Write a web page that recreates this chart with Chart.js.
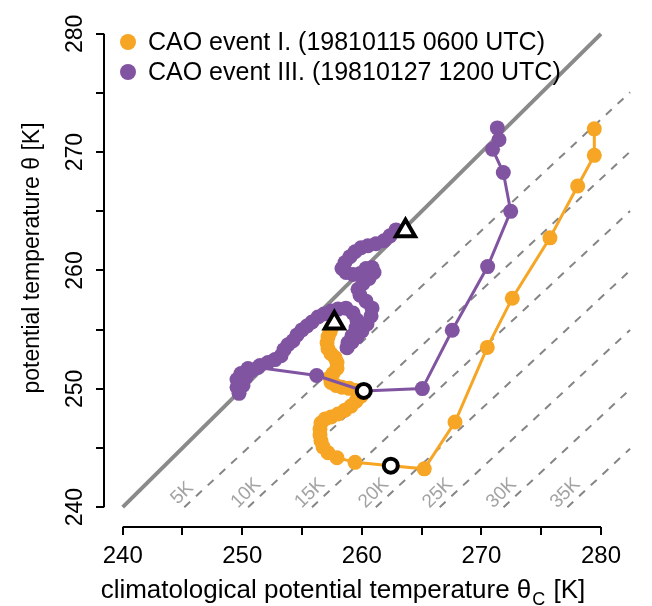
<!DOCTYPE html>
<html>
<head>
<meta charset="utf-8">
<script src="https://cdn.jsdelivr.net/npm/chart.js@4.4.0/dist/chart.umd.min.js"></script>
<style>
  html, body { margin: 0; padding: 0; background: #fff; }
</style>
</head>
<body>
<canvas id="chart" width="652" height="606"></canvas>
<script>
// trajectory of each cold air outbreak in (theta_c, theta) space
const seriesNames = ['CAO event I. (19810115 0600 UTC)', 'CAO event III. (19810127 1200 UTC)'];
const seriesColors = ['#F6A524', '#8154A1'];

const event1ThetaC = [279.44, 279.44, 278.05, 275.73, 272.58, 270.49, 267.79, 265.22, 262.42, 259.43,
  257.92, 257.17, 256.75, 256.58, 256.50, 256.50, 256.58, 256.92, 257.42, 258.01,
  258.59, 259.09, 259.51, 259.93, 260.01, 259.51, 258.93, 258.34, 257.84, 257.42,
  257.34, 257.59, 257.92, 257.92, 257.75, 257.42, 257.17, 257.09, 257.17, 257.34,
  257.50, 257.67];
const event1Theta = [271.97, 269.73, 267.14, 262.76, 257.66, 253.50, 247.20, 243.24, 243.51, 243.79,
  244.18, 244.60, 245.10, 245.61, 246.11, 246.61, 247.11, 247.45, 247.62, 247.87,
  248.20, 248.54, 248.95, 249.37, 249.71, 249.87, 250.04, 250.13, 250.29, 250.54,
  250.96, 251.30, 251.72, 252.22, 252.64, 252.97, 253.39, 253.89, 254.39, 254.81,
  255.23, 255.56];

const event3ThetaC = [271.33, 271.47, 270.93, 271.83, 272.45, 270.52, 267.56, 265.06, 260.16, 256.22,
  251.32, 250.48, 249.89, 249.56, 249.56, 249.73, 250.06, 250.31, 250.81, 251.48,
  252.15, 252.74, 253.24, 253.49, 253.82, 254.24, 254.58, 254.99, 255.41, 255.83,
  256.33, 256.83, 257.42, 258.01, 258.67, 259.26, 259.59, 259.51, 259.18, 258.84,
  258.76, 259.18, 259.59, 260.01, 260.43, 260.77, 260.85, 260.35, 259.85, 259.68,
  260.10, 260.60, 261.02, 260.85, 260.35, 259.85, 259.26, 258.67, 258.34, 258.59,
  259.01, 259.43, 259.93, 260.51, 261.18, 261.85, 262.35, 262.86];
const event3Theta = [272.05, 271.05, 270.25, 268.28, 265.00, 260.33, 254.95, 250.02, 249.82, 251.13,
  251.80, 251.72, 251.30, 250.79, 250.13, 249.62, 250.29, 250.96, 251.55, 251.97,
  252.22, 252.47, 252.80, 253.31, 253.72, 254.06, 254.56, 254.98, 255.31, 255.65,
  256.07, 256.32, 256.57, 256.74, 256.82, 256.40, 255.82, 255.15, 254.48, 253.89,
  253.47, 253.97, 254.39, 254.90, 255.48, 256.15, 256.82, 257.41, 257.91, 258.41,
  258.91, 259.33, 259.83, 260.25, 260.17, 259.75, 259.67, 259.83, 260.17, 260.67,
  261.17, 261.59, 261.92, 262.09, 262.26, 262.51, 262.93, 263.43];

// open circle and triangle markers on each trajectory
const circleThetaC = [262.42, 260.16];
const circleTheta = [243.51, 249.82];
const triangleThetaC = [257.70, 263.65];
const triangleTheta = [255.56, 263.35];

// dashed offset lines: start on theta = 240, end at the right edge
const offsetLabels = ['5K', '10K', '15K', '20K', '25K', '30K', '35K'];
const offsetStartThetaC = [245.15, 250.49, 255.83, 261.17, 266.51, 271.85, 277.19];
const offsetStartTheta = 240;
const offsetEndThetaC = 282.43;
const offsetEndTheta = [275.06, 270.04, 265.02, 260.00, 254.98, 249.96, 244.94];

// 1:1 line
const diagMin = 240;
const diagMax = 280;

const xTicks = [240, 245, 250, 255, 260, 265, 270, 275, 280];
const xTickLabels = ['240', '', '250', '', '260', '', '270', '', '280'];
const yTicks = [240, 245, 250, 255, 260, 265, 270, 275, 280];
const yTickLabels = ['240', '', '250', '', '260', '', '270', '', '280'];

const FONT = '"Liberation Sans", Arial, Helvetica, sans-serif';

function pts(xs, ys) {
  return xs.map((x, i) => ({ x: x, y: ys[i] }));
}

const datasets = [];

datasets.push({
  label: 'circles',
  data: pts(circleThetaC, circleTheta),
  showLine: false,
  pointStyle: 'circle',
  pointRadius: 7,
  pointBackgroundColor: '#fff',
  pointBorderColor: '#000',
  pointBorderWidth: 4
});
datasets.push({
  label: 'triangles',
  data: pts(triangleThetaC, triangleTheta),
  showLine: false,
  pointStyle: 'triangle',
  pointRadius: 11,
  pointBackgroundColor: '#fff',
  pointBorderColor: '#000',
  pointBorderWidth: 4
});
datasets.push({
  label: seriesNames[1],
  data: pts(event3ThetaC, event3Theta),
  showLine: true,
  borderColor: seriesColors[1],
  borderWidth: 3,
  pointRadius: 7.5,
  pointBackgroundColor: seriesColors[1],
  pointBorderWidth: 0
});
datasets.push({
  label: seriesNames[0],
  data: pts(event1ThetaC, event1Theta),
  showLine: true,
  borderColor: seriesColors[0],
  borderWidth: 3,
  pointRadius: 7.5,
  pointBackgroundColor: seriesColors[0],
  pointBorderWidth: 0
});

// dashed offset lines, then the 1:1 line underneath everything
offsetLabels.forEach((name, i) => {
  datasets.push({
    label: name,
    data: [{ x: offsetStartThetaC[i], y: offsetStartTheta }, { x: offsetEndThetaC, y: offsetEndTheta[i] }],
    showLine: true,
    borderColor: '#858585',
    borderWidth: 2,
    borderDash: [8, 8],
    pointRadius: 0
  });
});
datasets.push({
  label: '1:1',
  data: [{ x: diagMin, y: diagMin }, { x: diagMax, y: diagMax }],
  showLine: true,
  borderColor: '#8a8a8a',
  borderWidth: 4,
  pointRadius: 0
});

// axes, offset labels and legend are drawn by hand around the plot region
const decorations = {
  id: 'decorations',
  beforeDatasetsDraw(chart) {
    const ctx = chart.ctx;
    const xs = chart.scales.x, ys = chart.scales.y;
    ctx.save();
    ctx.fillStyle = '#a3a3a3';
    ctx.font = '19px ' + FONT;
    ctx.textAlign = 'center';
    ctx.textBaseline = 'middle';
    offsetLabels.forEach((name, i) => {
      const px = xs.getPixelForValue(offsetStartThetaC[i]) - 2;
      const py = ys.getPixelForValue(offsetStartTheta) - 14;
      ctx.save();
      ctx.translate(px, py);
      ctx.rotate(-Math.PI / 4);
      ctx.fillText(name, 0, 0);
      ctx.restore();
    });
    ctx.restore();
  },
  afterDraw(chart) {
    const ctx = chart.ctx;
    const xs = chart.scales.x, ys = chart.scales.y;
    const area = chart.chartArea;
    ctx.save();
    ctx.strokeStyle = '#000';
    ctx.fillStyle = '#000';
    ctx.lineWidth = 2;

    // x axis
    const axY = area.bottom + 1;
    ctx.beginPath();
    ctx.moveTo(xs.getPixelForValue(xTicks[0]), axY);
    ctx.lineTo(xs.getPixelForValue(xTicks[xTicks.length - 1]), axY);
    xTicks.forEach(v => {
      const p = Math.round(xs.getPixelForValue(v));
      ctx.moveTo(p, axY);
      ctx.lineTo(p, axY + 8);
    });
    ctx.stroke();
    ctx.font = '24px ' + FONT;
    ctx.textAlign = 'center';
    ctx.textBaseline = 'alphabetic';
    xTicks.forEach((v, i) => {
      if (xTickLabels[i]) ctx.fillText(xTickLabels[i], xs.getPixelForValue(v), 563);
    });

    // y axis
    const axX = area.left;
    ctx.beginPath();
    ctx.moveTo(axX, ys.getPixelForValue(yTicks[0]));
    ctx.lineTo(axX, ys.getPixelForValue(yTicks[yTicks.length - 1]));
    yTicks.forEach(v => {
      const p = Math.round(ys.getPixelForValue(v));
      ctx.moveTo(axX, p);
      ctx.lineTo(axX - 8, p);
    });
    ctx.stroke();
    ctx.font = '23px ' + FONT;
    yTicks.forEach((v, i) => {
      if (!yTickLabels[i]) return;
      ctx.save();
      ctx.translate(82, ys.getPixelForValue(v));
      ctx.rotate(-Math.PI / 2);
      ctx.fillText(yTickLabels[i], 0, 0);
      ctx.restore();
    });

    // axis titles
    ctx.save();
    ctx.translate(39, 258);
    ctx.rotate(-Math.PI / 2);
    ctx.fillText('potential temperature \u03b8 [K]', 0, 0);
    ctx.restore();

    const partA = 'climatological potential temperature \u03b8';
    const partB = 'C';
    const partC = ' [K]';
    ctx.font = '26px ' + FONT;
    const wA = ctx.measureText(partA).width;
    const wC = ctx.measureText(partC).width;
    ctx.font = '18px ' + FONT;
    const wB = ctx.measureText(partB).width;
    let tx = 343 - (wA + wB + wC + 2) / 2;
    ctx.textAlign = 'left';
    ctx.font = '26px ' + FONT;
    ctx.fillText(partA, tx, 598);
    tx += wA + 1;
    ctx.font = '18px ' + FONT;
    ctx.fillText(partB, tx, 605);
    tx += wB + 1;
    ctx.font = '26px ' + FONT;
    ctx.fillText(partC, tx, 598);

    // legend
    ctx.font = '25px ' + FONT;
    ctx.textBaseline = 'middle';
    [0, 1].forEach(i => {
      const ly = 42 + i * 30;
      ctx.fillStyle = seriesColors[i];
      ctx.beginPath();
      ctx.arc(128, ly, 8, 0, Math.PI * 2);
      ctx.fill();
      ctx.fillStyle = '#000';
      ctx.fillText(seriesNames[i], 148, ly + 1);
    });
    ctx.restore();
  }
};

new Chart(document.getElementById('chart'), {
  type: 'scatter',
  data: { datasets: datasets },
  options: {
    responsive: false,
    animation: false,
    devicePixelRatio: 1,
    layout: { padding: { left: 104, top: 10, right: 20, bottom: 80 } },
    scales: {
      x: { type: 'linear', display: false, min: 238.436, max: 282.593 },
      y: { type: 'linear', display: false, min: 238.41, max: 281.59 }
    },
    plugins: {
      legend: { display: false },
      tooltip: { enabled: false }
    },
    elements: { line: { tension: 0 } }
  },
  plugins: [decorations]
});
</script>
</body>
</html>
